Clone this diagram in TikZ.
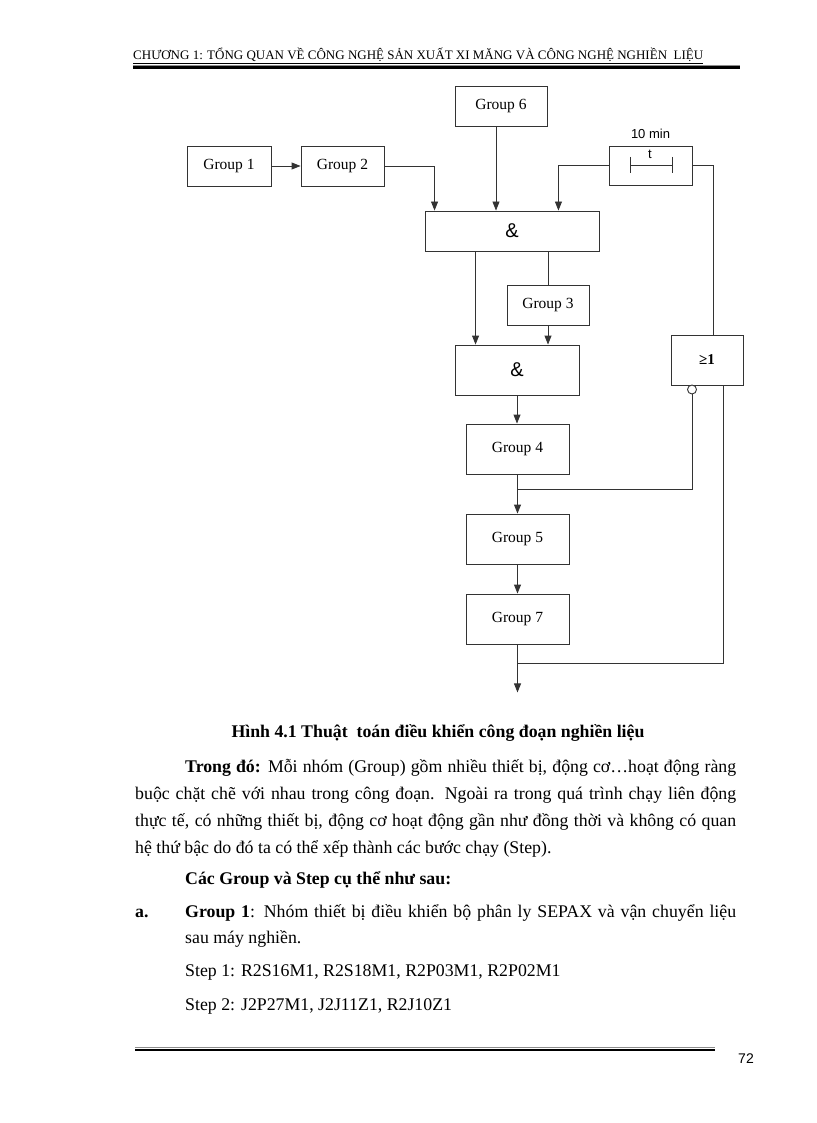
\documentclass[tikz,border=0pt]{standalone}
\usepackage{fontspec}
\setmainfont{Liberation Serif}
\newfontfamily\sansf{Liberation Sans}
\usetikzlibrary{arrows.meta,calc}
\begin{document}
\begin{tikzpicture}[x=1pt,y=-1pt,
  box/.style={draw=black!80, line width=0.9pt, inner sep=0pt, font=\fontsize{15.5}{18}\selectfont},
  arr/.style={draw=black!80, line width=0.9pt, -{Triangle[length=9pt,width=7pt]}},
  ln/.style={draw=black!80, line width=0.9pt},
  body/.style={anchor=base west, inner sep=0pt, font=\fontsize{17.8}{20}\selectfont}]
\useasboundingbox (0,0) rectangle (816,1123);
% header
\node[anchor=base west, inner sep=0pt, font=\fontsize{13}{15}\selectfont] (hdr) at (133,60) {\underline{CHƯƠNG 1: TỔNG QUAN VỀ CÔNG NGHỆ SẢN XUẤT XI MĂNG VÀ CÔNG NGHỆ NGHIỀN\ \ LIỆU}};
\draw[black!45, line width=0.6pt] (133,65) -- (740,65);
\draw[black, line width=2.4pt] (133,67.5) -- (740,67.5);
% boxes
\node[box, minimum width=92pt, minimum height=40pt] (g6) at (501,106) {Group 6};
\node[box, minimum width=84pt, minimum height=40pt] (g1) at (229,166) {Group 1};
\node[box, minimum width=83pt, minimum height=40pt] (g2) at (342.5,166) {Group 2};
\node[box, font=\sansf\fontsize{20}{22}\selectfont, minimum width=174pt, minimum height=40pt] (and1) at (512,231) {\&};
\node[box, minimum width=83pt, minimum height=39pt] (tm) at (650.5,165.5) {};
\node[font=\sansf\fontsize{13}{15}\selectfont, anchor=base, inner sep=0pt] (tmlbl) at (650.5,139) {10 min};
\node[font=\sansf\fontsize{13}{14}\selectfont, anchor=base, inner sep=0pt] (tt) at (650,159) {t};
\draw[ln] (630,165) -- (672,165);
\draw[ln] (630,157) -- (630,173);
\draw[ln] (672,157) -- (672,173);
\node[box, minimum width=82pt, minimum height=40pt] (g3) at (548,305) {Group 3};
\node[box, font=\sansf\fontsize{20}{22}\selectfont, minimum width=124pt, minimum height=50pt] (and2) at (517,370) {\&};
\node[box, font=\bfseries\fontsize{15}{16}\selectfont, minimum width=72pt, minimum height=50pt] (or) at (707,360) {≥1};
\node[circle, draw=black!80, line width=0.9pt, minimum size=9pt, inner sep=0pt, fill=white] (neg) at (692,389.5) {};
\node[box, minimum width=103pt, minimum height=50pt] (g4) at (517.5,449) {Group 4};
\node[box, minimum width=103pt, minimum height=50pt] (g5) at (517.5,539) {Group 5};
\node[box, minimum width=103pt, minimum height=50pt] (g7) at (517.5,619) {Group 7};
% connectors
\draw[arr] (g1) -- (g2);
\draw[arr] (g2.east) -| ($(and1.north west)+(10,0)$);
\draw[arr] ($(g6.south)+(-5,0)$) -- ($(g6.south |- and1.north)+(-5,0)$);
\draw[arr] (tm.west) -| ($(and1.north east)+(-41,0)$);
\draw[ln] (tm.east) -| ($(or.north)+(6,0)$);
\draw[arr] ($(and1.south west)+(51,0)$) -- ($(and2.north west)+(21,0)$);
\draw[ln] (g3.north |- and1.south) -- (g3.north);
\draw[arr] (g3.south) -- (g3.south |- and2.north);
\draw[arr] (and2.south) -- (and2.south |- g4.north);
\coordinate (j1) at ($(g4.south)+(0,15)$);
\draw[ln] (g4.south) -- (j1);
\draw[arr] (j1) -- (g5.north);
\draw[ln] (neg.south) |- (j1);
\draw[arr] (g5) -- (g7);
\coordinate (j2) at ($(g7.south)+(0,19)$);
\coordinate (out) at ($(g7.south)+(0,48)$);
\draw[ln] ($(or.south)+(16,0)$) |- (j2);
\draw[arr] (g7.south) -- (out);
% caption and text
\node[anchor=base, inner sep=0pt, font=\bfseries\fontsize{17.8}{20}\selectfont] (cap) at (438,737) {Hình 4.1 Thuật\ \ toán điều khiển công đoạn nghiền liệu};
\node[body] (p1) at (185,772) {\makebox[551pt][s]{\textbf{Trong đó:} Mỗi nhóm (Group) gồm nhiều thiết bị, động cơ…hoạt động ràng}};
\node[body] (p2) at (135,799) {\makebox[601pt][s]{buộc chặt chẽ với nhau trong công đoạn. Ngoài ra trong quá trình chạy liên động}};
\node[body] (p3) at (135,826) {\makebox[601pt][s]{thực tế, có những thiết bị, động cơ hoạt động gần như đồng thời và không có quan}};
\node[body] (p4) at (135,853) {hệ thứ bậc do đó ta có thể xếp thành các bước chạy (Step).};
\node[body] (l0) at (185,884) {\textbf{Các Group và Step cụ thể như sau:}};
\node[body] (la) at (135,917) {\textbf{a.}};
\node[body] (l1) at (185,917) {\makebox[551pt][s]{\textbf{Group 1}: Nhóm thiết bị điều khiển bộ phân ly SEPAX và vận chuyển liệu}};
\node[body] (l2) at (185,943) {sau máy nghiền.};
\node[body] (l3) at (185,976) {Step 1: R2S16M1, R2S18M1, R2P03M1, R2P02M1};
\node[body] (l4) at (185,1010) {Step 2: J2P27M1, J2J11Z1, R2J10Z1};
% footer
\draw[black!45, line width=0.6pt] (135,1047) -- (715,1047);
\draw[black, line width=2.6pt] (135,1049.8) -- (715,1049.8);
\node[anchor=base, inner sep=0pt, font=\sansf\fontsize{14}{16}\selectfont] (pg) at (746,1063) {72};
\end{tikzpicture}
\end{document}
